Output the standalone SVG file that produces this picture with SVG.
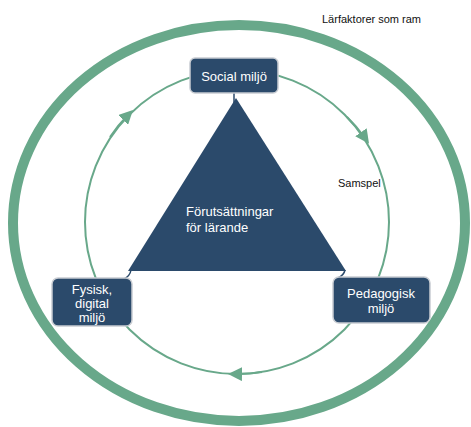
<svg xmlns="http://www.w3.org/2000/svg" width="471" height="427" viewBox="0 0 471 427">
<defs>
<style>
.box{fill:#2b4a6b;stroke:#c8ccd2;stroke-width:1.5}
.lbl{font-family:"Liberation Sans",Arial,sans-serif;fill:#ffffff;font-size:13px;text-anchor:middle}
.note{font-family:"Liberation Sans",Arial,sans-serif;fill:#111;font-size:11px}
.ring{fill:none;stroke:#68a88a}
</style>
<marker id="arr" viewBox="0 0 10 10" refX="5" refY="5" markerWidth="7" markerHeight="7" orient="auto" markerUnits="strokeWidth">
<path d="M0,0 L10,5 L0,10 z" fill="#68a88a"/>
</marker>
</defs>
<rect width="471" height="427" fill="#ffffff"/>
<g id="frame">
<ellipse class="ring" cx="239" cy="223" rx="226" ry="198" stroke-width="10"/>
</g>
<g id="connectors">
<circle class="ring" cx="237" cy="222" r="152" stroke-width="2"/>
<path class="ring" stroke-width="2" d="M110,137 A152,152 0 0 1 128,115" marker-end="url(#arr)"/>
<path class="ring" stroke-width="2" d="M347,117 A152,152 0 0 1 365,138" marker-end="url(#arr)"/>
<path class="ring" stroke-width="2" d="M262,372 A152,152 0 0 1 235,374" marker-end="url(#arr)"/>
<path d="M234,93 L234,103" stroke="#2b4a6b" stroke-width="1.5" fill="none"/>
<path d="M131,270 Q130,276 124,279" stroke="#2b4a6b" stroke-width="1.5" fill="none"/>
<path d="M345,270 Q344,275 338,278" stroke="#2b4a6b" stroke-width="1.5" fill="none"/>
</g>
<g id="triangle">
<polygon points="236,98 128,271 346,271" fill="#2b4a6b"/>
<text class="lbl" x="186" y="216" style="text-anchor:start">Förutsättningar</text>
<text class="lbl" x="186" y="232" style="text-anchor:start">för lärande</text>
</g>
<g id="social">
<rect class="box" x="190" y="58" width="88" height="35" rx="5"/>
<text class="lbl" x="234" y="81" font-size="14">Social miljö</text>
</g>
<g id="fysisk">
<rect class="box" x="52" y="278" width="80" height="48" rx="6"/>
<text class="lbl" x="92" y="294">Fysisk,</text>
<text class="lbl" x="92" y="308">digital</text>
<text class="lbl" x="92" y="322">miljö</text>
</g>
<g id="pedagogisk">
<rect class="box" x="333" y="277" width="97" height="46" rx="6"/>
<text class="lbl" x="381" y="298">Pedagogisk</text>
<text class="lbl" x="381" y="313">miljö</text>
</g>
<text class="note" x="322" y="23">Lärfaktorer som ram</text>
<text class="note" x="338" y="187">Samspel</text>
</svg>
